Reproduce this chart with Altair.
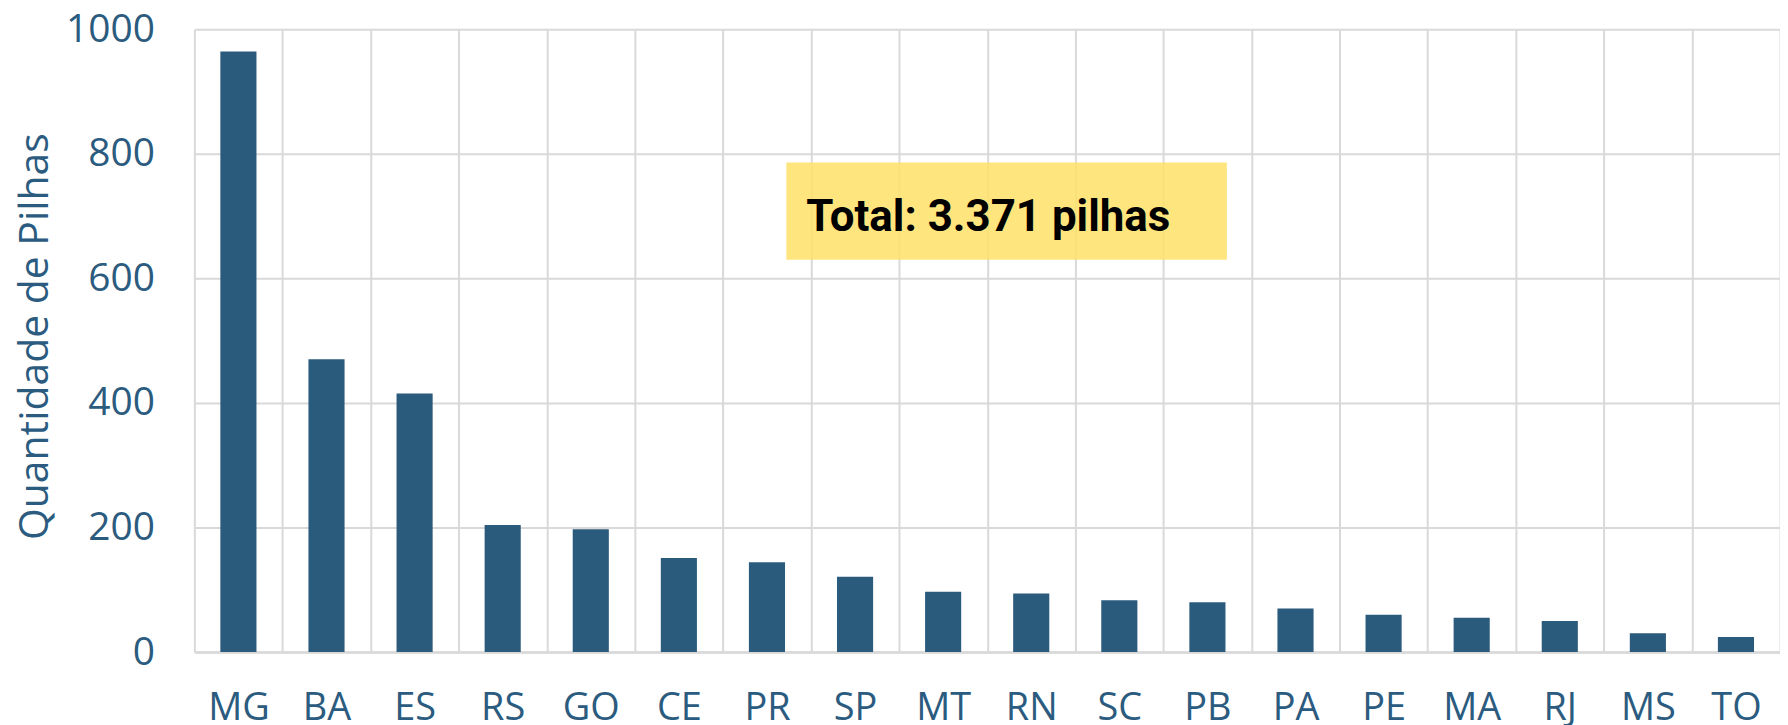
import altair as alt
import pandas as pd

states = ["MG", "BA", "ES", "RS", "GO", "CE", "PR", "SP", "MT",
          "RN", "SC", "PB", "PA", "PE", "MA", "RJ", "MS", "TO"]
values = [964, 470, 415, 204, 197, 151, 144, 121, 97,
          94, 83, 80, 70, 60, 55, 50, 30, 24]

note_text = ["Total: 3.371 pilhas"]
note_low = [630]
note_high = [786]

BAR = "#2B5B7C"
TXT = "#2B5B7E"
GRID = "#D9D9D9"

df = pd.DataFrame({"uf": states, "qtd": values})
note = pd.DataFrame({"t": note_text, "y1": note_low, "y2": note_high})

x = alt.X("uf:N", sort=states, title=None,
          scale=alt.Scale(paddingInner=0, paddingOuter=0),
          axis=alt.Axis(labelAngle=0, labelFont="Open Sans", labelFontSize=38,
                        labelColor=TXT, labelPadding=38, ticks=False,
                        tickBand="extent", grid=True, gridColor=GRID,
                        gridWidth=2, domainColor=GRID, domainWidth=2.5))
y = alt.Y("qtd:Q", title="Quantidade de Pilhas",
          scale=alt.Scale(domain=[0, 1000], nice=False),
          axis=alt.Axis(values=[0, 200, 400, 600, 800, 1000], format="d",
                        labelFont="Open Sans", labelFontSize=39, labelColor=TXT,
                        labelPadding=40, ticks=False, domain=False, grid=True,
                        gridColor=GRID, gridWidth=2, titleFont="Open Sans",
                        titleFontSize=41, titleFontWeight="normal", titleColor=TXT,
                        titleBaseline="alphabetic", titleX=-147, titleY=308))

bars = alt.Chart(df).mark_bar(color=BAR, width=alt.RelativeBandSize(0.41)).encode(x=x, y=y)

box = alt.Chart(note).mark_rect(color="#FFE066", opacity=0.85).encode(
    x=alt.value(594), x2=alt.value(1036),
    y=alt.Y("y1:Q"), y2=alt.Y2("y2:Q"))

label = alt.Chart(note).mark_text(
    font="Roboto", fontWeight="bold",
    fontSize=44, color="#000000", align="left", baseline="alphabetic").encode(
    x=alt.value(614), y=alt.value(203), text="t:N")

chart = alt.layer(bars, box, label).properties(
    width=1591, height=625,
    autosize=alt.AutoSizeParams(type="none"),
    padding={"left": 187, "top": 20, "right": 0, "bottom": 80},
).configure_view(stroke=None)

chart.save("out.html", embed_options={"renderer": "svg", "actions": False})
